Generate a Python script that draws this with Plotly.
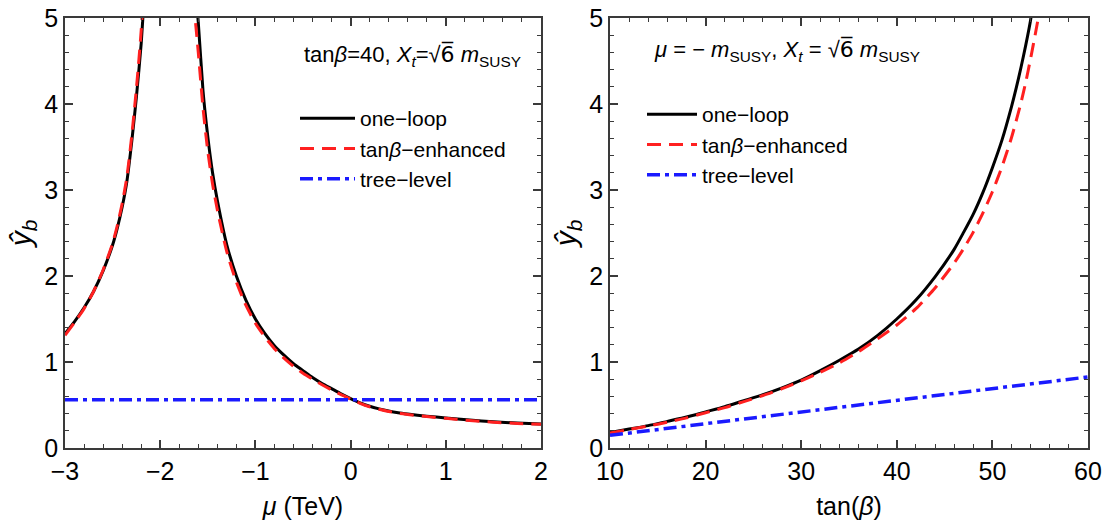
import plotly.graph_objects as go
from plotly.subplots import make_subplots

# ---------------- data ----------------
# Left panel: y_b versus mu (TeV), tan(beta)=40
mu_left_branch = [-3.0, -2.9, -2.8, -2.7, -2.6, -2.5, -2.45, -2.4, -2.35, -2.3, -2.25, -2.2, -2.15]
oneloop_left_branch = [1.33, 1.47, 1.63, 1.82, 2.06, 2.36, 2.56, 2.80, 3.10, 3.55, 4.08, 4.70, 5.60]
enh_left_branch = [1.31, 1.46, 1.62, 1.82, 2.07, 2.38, 2.59, 2.84, 3.15, 3.62, 4.18, 4.85, 5.85]

mu_right_branch = [-1.65, -1.6, -1.55, -1.5, -1.45, -1.4, -1.3, -1.2, -1.1, -1.0, -0.9, -0.8,
                   -0.7, -0.6, -0.5, -0.4, -0.3, -0.2, -0.1, 0.0, 0.1, 0.2, 0.3, 0.4, 0.5,
                   0.6, 0.8, 1.0, 1.25, 1.5, 1.75, 2.0]
oneloop_right_branch = [5.60, 4.95, 4.15, 3.62, 3.20, 2.88, 2.36, 2.00, 1.72, 1.50, 1.33, 1.19,
                        1.08, 0.98, 0.90, 0.82, 0.75, 0.69, 0.63, 0.575, 0.525, 0.485, 0.455, 0.43, 0.41,
                        0.395, 0.37, 0.35, 0.325, 0.305, 0.29, 0.28]
enh_right_branch = [5.20, 4.60, 3.95, 3.45, 3.07, 2.77, 2.28, 1.93, 1.66, 1.45, 1.29, 1.155,
                    1.045, 0.95, 0.87, 0.80, 0.735, 0.675, 0.62, 0.57, 0.52, 0.48, 0.45, 0.425, 0.405,
                    0.39, 0.365, 0.345, 0.32, 0.30, 0.285, 0.275]

mu_tree = [-3.0, 2.0]
tree_left = [0.56, 0.56]

# Right panel: y_b versus tan(beta), mu = -m_SUSY
tanb_oneloop = [10, 12, 14, 16, 18, 20, 22, 24, 26, 28, 30, 32, 34, 36, 38, 40, 42, 44,
                46, 47, 48, 49, 50, 51, 52, 52.5, 53, 53.5, 54, 54.5]
oneloop_tanb = [0.18, 0.22, 0.26, 0.31, 0.36, 0.42, 0.48, 0.55, 0.62, 0.70, 0.79, 0.90, 1.02,
                1.15, 1.31, 1.50, 1.72, 1.99, 2.31, 2.51, 2.72, 2.97, 3.26, 3.58, 3.97, 4.19,
                4.43, 4.69, 4.98, 5.40]
tanb_enh = [10, 12, 14, 16, 18, 20, 22, 24, 26, 28, 30, 32, 34, 36, 38, 40, 42, 44,
            46, 47, 48, 49, 50, 51, 52, 53, 53.5, 54, 54.5, 55]
enh_tanb = [0.175, 0.215, 0.255, 0.30, 0.35, 0.41, 0.47, 0.54, 0.61, 0.69, 0.78, 0.88, 0.99,
            1.12, 1.27, 1.43, 1.62, 1.86, 2.15, 2.32, 2.51, 2.73, 2.98, 3.27, 3.61, 4.02,
            4.26, 4.53, 4.82, 5.12]
tanb_tree = [10, 60]
tree_tanb = [0.147, 0.826]

# ---------------- styling ----------------
FONT = "Liberation Sans, Arial, sans-serif"
BLACK = "#000000"
RED = "#ff2020"
BLUE = "#1a1aff"
AX = "#3a3a3a"

fig = make_subplots(rows=1, cols=2)

black_line = dict(color=BLACK, width=3, shape="spline", smoothing=0.6)
red_line = dict(color=RED, width=3, dash="14px,8px", shape="spline", smoothing=0.6)
blue_line = dict(color=BLUE, width=3.5, dash="13px,5px,4px,5px")

names = ["one\u2212loop", "tan<i>\u03b2</i>\u2212enhanced", "tree\u2212level"]

# left panel
fig.add_trace(go.Scatter(x=mu_left_branch, y=oneloop_left_branch, mode="lines", line=black_line,
                         name=names[0], legend="legend", legendgroup="a"), 1, 1)
fig.add_trace(go.Scatter(x=mu_right_branch, y=oneloop_right_branch, mode="lines", line=black_line,
                         name=names[0], legend="legend", legendgroup="a", showlegend=False), 1, 1)
fig.add_trace(go.Scatter(x=mu_left_branch, y=enh_left_branch, mode="lines", line=red_line,
                         name=names[1], legend="legend", legendgroup="b"), 1, 1)
fig.add_trace(go.Scatter(x=mu_right_branch, y=enh_right_branch, mode="lines", line=red_line,
                         name=names[1], legend="legend", legendgroup="b", showlegend=False), 1, 1)
fig.add_trace(go.Scatter(x=mu_tree, y=tree_left, mode="lines", line=blue_line,
                         name=names[2], legend="legend", legendgroup="c"), 1, 1)

# right panel
fig.add_trace(go.Scatter(x=tanb_oneloop, y=oneloop_tanb, mode="lines", line=black_line,
                         name=names[0], legend="legend2"), 1, 2)
fig.add_trace(go.Scatter(x=tanb_enh, y=enh_tanb, mode="lines", line=red_line,
                         name=names[1], legend="legend2"), 1, 2)
fig.add_trace(go.Scatter(x=tanb_tree, y=tree_tanb, mode="lines", line=blue_line,
                         name=names[2], legend="legend2"), 1, 2)

W, H = 1110, 522
L1, R1 = 65, 541
L2, R2 = 610, 1088
TOP, BOT = 18, 448

axis_common = dict(
    showgrid=False, zeroline=False, showline=True, linecolor=AX, linewidth=1.5,
    mirror="ticks", ticks="inside", ticklen=8, tickwidth=1.5, tickcolor=AX,
    tickfont=dict(family=FONT, size=25, color="black"), automargin=False,
)
minor_common = dict(ticks="inside", ticklen=4, tickcolor=AX, tickwidth=1.2)
title_font = dict(family=FONT, size=25, color="black")
ytitle_font = dict(family=FONT, size=30, color="black")

fig.update_xaxes(**axis_common)
fig.update_yaxes(**axis_common)

SQ6 = "\u221a<span style='font-family:DejaVu Sans'>6\u0305</span>"

fig.update_layout(
    xaxis=dict(domain=[L1 / W, R1 / W], range=[-3, 2], dtick=1, tick0=0,
               minor=dict(dtick=0.2, **minor_common),
               title=dict(text="<i>\u03bc</i> (TeV)", font=title_font, standoff=14)),
    xaxis2=dict(domain=[L2 / W, R2 / W], range=[10, 60], dtick=10, tick0=0,
                minor=dict(dtick=2, **minor_common),
                title=dict(text="tan(<i>\u03b2</i>)", font=title_font, standoff=14)),
    yaxis=dict(domain=[1 - BOT / H, 1 - TOP / H], range=[0, 5], dtick=1, tick0=0,
               minor=dict(dtick=0.2, **minor_common),
               title=dict(text="<i>\u0177</i><sub><i>b</i></sub>", font=ytitle_font, standoff=4)),
    yaxis2=dict(domain=[1 - BOT / H, 1 - TOP / H], range=[0, 5], dtick=1, tick0=0,
                minor=dict(dtick=0.2, **minor_common),
                title=dict(text="<i>\u0177</i><sub><i>b</i></sub>", font=ytitle_font, standoff=4)),
    width=W, height=H,
    margin=dict(l=0, r=0, t=0, b=0, autoexpand=False),
    paper_bgcolor="white", plot_bgcolor="white",
    font=dict(family=FONT, size=21, color="black"),
    legend=dict(x=295 / W, y=1 - 98 / H, xanchor="left", yanchor="top",
                font=dict(family=FONT, size=21, color="black"), bgcolor="rgba(0,0,0,0)",
                tracegroupgap=0, itemwidth=55),
    legend2=dict(x=642 / W, y=1 - 94 / H, xanchor="left", yanchor="top",
                 font=dict(family=FONT, size=21, color="black"), bgcolor="rgba(0,0,0,0)",
                 tracegroupgap=0, itemwidth=50),
    annotations=[
        dict(text="tan<i>\u03b2</i>=40, <i>X<sub>t</sub></i>=" + SQ6 + " <i>m</i><sub>SUSY</sub>",
             x=302 / W, y=1 - 55 / H, xref="paper", yref="paper", xanchor="left", yanchor="middle",
             showarrow=False, font=dict(family=FONT, size=22, color="black")),
        dict(text="<i>\u03bc</i> = \u2212 <i>m</i><sub>SUSY</sub>, <i>X<sub>t</sub></i> = " + SQ6 + " <i>m</i><sub>SUSY</sub>",
             x=652 / W, y=1 - 50 / H, xref="paper", yref="paper", xanchor="left", yanchor="middle",
             showarrow=False, font=dict(family=FONT, size=22, color="black")),
    ],
)

fig.write_html("out.html")
